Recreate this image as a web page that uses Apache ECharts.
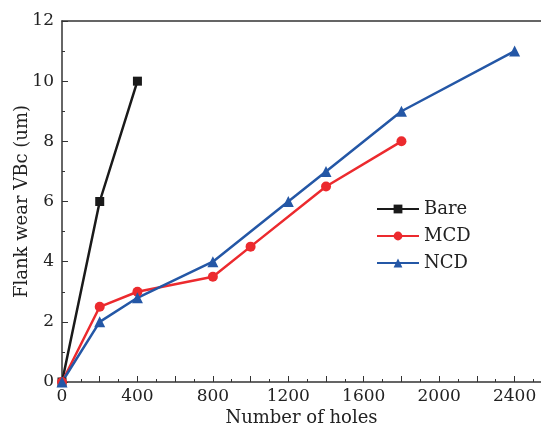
<!DOCTYPE html>
<html><head><meta charset="utf-8">
<script src="https://cdn.jsdelivr.net/npm/echarts@6/dist/echarts.min.js"></script>
<style>html,body{margin:0;padding:0;background:#fff}#c{width:541px;height:427px}</style>
</head><body><div id="c"></div>
<script>
const bareX = [0, 200, 400];
const bareY = [0, 6, 10];
const mcdX = [0, 200, 400, 800, 1000, 1400, 1800];
const mcdY = [0, 2.5, 3, 3.5, 4.5, 6.5, 8];
const ncdX = [0, 200, 400, 800, 1200, 1400, 1800, 2400];
const ncdY = [0, 2, 2.8, 4, 6, 7, 9, 11];
const seriesNames = ['Bare', 'MCD', 'NCD'];

const zip = (xs, ys) => xs.map((x, i) => [x, ys[i]]);
const font = '"DejaVu Serif", "Liberation Serif", serif';
const chart = echarts.init(document.getElementById('c'), null, {renderer: 'canvas'});
const mk = (name, data, color, symbol, size) => ({
  name, type: 'line', data, symbol, symbolSize: size,
  itemStyle: {color}, lineStyle: {color, width: 2.5}, z: 3
});
chart.setOption({
  animation: false,
  backgroundColor: '#fff',
  grid: {left: 62, right: 0, top: 21, bottom: 45, containLabel: false, outerBoundsMode: 'none'},
  legend: {
    orient: 'vertical', left: 371, top: 195, itemWidth: 42, itemHeight: 11, itemGap: 9,
    textStyle: {fontFamily: font, fontSize: 18, color: '#222'},
    data: seriesNames
  },
  xAxis: [{
    type: 'value', min: 0, max: 2540, interval: 200,
    name: 'Number of holes', nameLocation: 'middle', nameGap: 27, nameMoveOverlap: false,
    nameTextStyle: {fontFamily: font, fontSize: 18, color: '#222'},
    axisLine: {onZero: false, lineStyle: {color: '#333', width: 1.5}},
    axisTick: {inside: true, length: 6, lineStyle: {color: '#333'}},
    minorTick: {show: true, splitNumber: 2, length: 3, lineStyle: {color: '#333'}},
    axisLabel: {fontFamily: font, fontSize: 17, color: '#222', margin: 6,
      formatter: v => (v % 400 === 0 ? String(v) : '')},
    splitLine: {show: false}
  }, {
    type: 'value', position: 'top', min: 0, max: 2540,
    axisLine: {show: true, onZero: false, lineStyle: {color: '#333', width: 1.5}},
    axisTick: {show: false}, axisLabel: {show: false}, splitLine: {show: false}
  }],
  yAxis: {
    type: 'value', min: 0, max: 12, interval: 2,
    name: 'Flank wear VBc (um)', nameLocation: 'middle', nameGap: 31, nameMoveOverlap: false,
    nameTextStyle: {fontFamily: font, fontSize: 18, color: '#222'},
    axisLine: {show: true, onZero: false, lineStyle: {color: '#333', width: 1.5}},
    axisTick: {inside: true, length: 6, lineStyle: {color: '#333'}},
    minorTick: {show: true, splitNumber: 2, length: 3, lineStyle: {color: '#333'}},
    axisLabel: {fontFamily: font, fontSize: 17, color: '#222', margin: 8},
    splitLine: {show: false}
  },
  series: [
    mk('Bare', zip(bareX, bareY), '#1a1a1a', 'rect', 9),
    mk('MCD', zip(mcdX, mcdY), '#ec2a2e', 'circle', 10),
    mk('NCD', zip(ncdX, ncdY), '#2457a6', 'triangle', 11)
  ]
});
</script></body></html>
